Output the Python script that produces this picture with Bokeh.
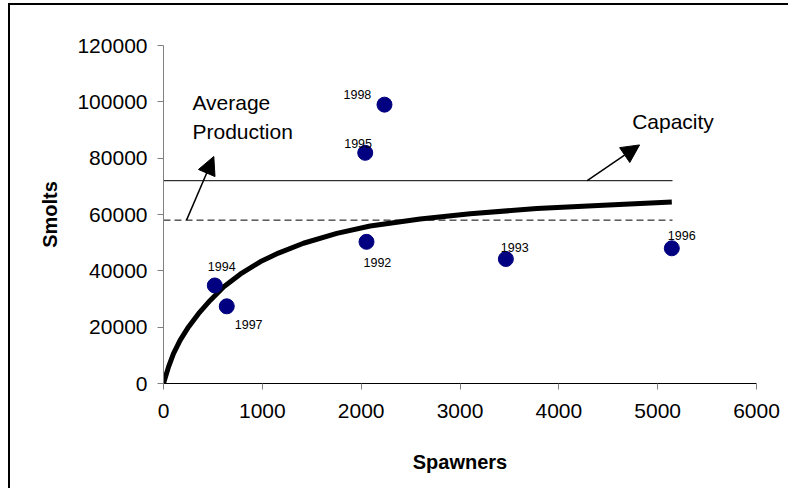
from bokeh.plotting import figure
from bokeh.models import (ColumnDataSource, Arrow, NormalHead, FixedTicker, Range1d,
                          NumeralTickFormatter)
from bokeh.core.properties import value
from bokeh.embed import file_html
from bokeh.resources import INLINE

# ---- data ----
years = ["1992", "1993", "1994", "1995", "1996", "1997", "1998"]
spawners = [2054, 3464, 519, 2041, 5143, 640, 2236]
smolts = [50300, 44200, 34800, 81900, 48000, 27400, 99000]
# label offsets in screen pixels (left edge / baseline relative to the point)
label_dx = [-3, -5, -7, -21, -4, 8, -41]
label_dy = [21, -12, -19, -9, -13, 18, -10]

# fitted recruitment curve
curve_s = [0, 51, 101, 169, 253, 354, 472, 607, 776, 978, 1163, 1416, 1754, 2091,
           2597, 3103, 3777, 4451, 5143]
curve_r = [0, 5900, 10600, 15400, 20100, 24800, 29500, 34300, 38800, 43200, 46300,
           49800, 53300, 55900, 58400, 60300, 62100, 63300, 64400]

capacity = 72000
average_production = 58000
line_end = 5150

x_ticks = [0, 1000, 2000, 3000, 4000, 5000, 6000]
y_ticks = [0, 20000, 40000, 60000, 80000, 100000, 120000]

# annotation anchors
avg_arrow = (233, 58000, 509, 80600)
cap_arrow = (4287, 72000, 4817, 84700)
avg_text_xy = (293, [99700, 89400], ["Average", "Production"])
cap_text_xy = (4742, 92900, "Capacity")

FONT = "Liberation Sans"

p = figure(width=780, height=485, output_backend="svg", toolbar_location=None,
           x_range=Range1d(0, 6000), y_range=Range1d(0, 120000),
           min_border_left=153, min_border_right=34, min_border_top=40, min_border_bottom=107)
p.styles = {"border-top": "2px solid black", "border-left": "2px solid black",
            "margin-top": "3px", "margin-left": "8px"}
p.outline_line_color = None
p.xgrid.visible = False
p.ygrid.visible = False
p.background_fill_color = "white"
p.border_fill_color = "white"

# horizontal reference lines
p.line([0, line_end], [capacity, capacity], line_color="black", line_width=1)
p.line([0, line_end], [average_production, average_production], line_color="black",
       line_width=1, line_dash="7 4")

# curve
p.line(curve_s, curve_r, line_color="black", line_width=5, line_join="round")

# points
src = ColumnDataSource(dict(x=spawners, y=smolts, year=years, dx=label_dx, dy=label_dy))
p.scatter("x", "y", source=src, size=15, fill_color="#000080", line_color="#000080")
p.text("x", "y", text="year", source=src, x_offset="dx", y_offset="dy",
       text_font=value(FONT), text_font_size="12.5px", text_align="left",
       text_baseline="alphabetic", text_color="black")

# arrows
for (x0, y0, x1, y1) in [avg_arrow, cap_arrow]:
    p.add_layout(Arrow(end=NormalHead(size=18, fill_color="black", line_color="black"),
                       x_start=x0, y_start=y0, x_end=x1, y_end=y1,
                       line_color="black", line_width=1.5))

# annotation texts
p.text(x=[avg_text_xy[0]] * 2, y=avg_text_xy[1], text=avg_text_xy[2],
       text_font=value(FONT), text_font_size="21px", text_align="left",
       text_baseline="alphabetic", text_color="black")
p.text(x=[cap_text_xy[0]], y=[cap_text_xy[1]], text=[cap_text_xy[2]],
       text_font=value(FONT), text_font_size="21px", text_align="left",
       text_baseline="alphabetic", text_color="black")

# axes
p.xaxis.ticker = FixedTicker(ticks=x_ticks)
p.yaxis.ticker = FixedTicker(ticks=y_ticks)
p.xaxis.formatter = NumeralTickFormatter(format="0")
p.yaxis.formatter = NumeralTickFormatter(format="0")
p.xaxis.minor_tick_line_color = None
p.yaxis.minor_tick_line_color = None
for ax in (p.xaxis[0], p.yaxis[0]):
    ax.major_label_text_font = FONT
    ax.major_label_text_font_size = "21px"
    ax.major_label_text_color = "black"
    ax.axis_label_text_font = FONT
    ax.axis_label_text_font_size = "20px"
    ax.axis_label_text_font_style = "bold"
    ax.axis_label_text_color = "black"
    ax.major_tick_in = 0
    ax.major_tick_out = 6
    ax.major_tick_line_color = "#808080"
p.xaxis.axis_line_color = "black"
p.yaxis.axis_line_color = "#808080"
p.xaxis.axis_label = "Spawners"
p.yaxis.axis_label = "Smolts"
p.xaxis.major_label_standoff = 14
p.yaxis.major_label_standoff = 10
p.xaxis.axis_label_standoff = 30
p.yaxis.axis_label_standoff = 13

open("out.html", "w").write(file_html(p, INLINE))
